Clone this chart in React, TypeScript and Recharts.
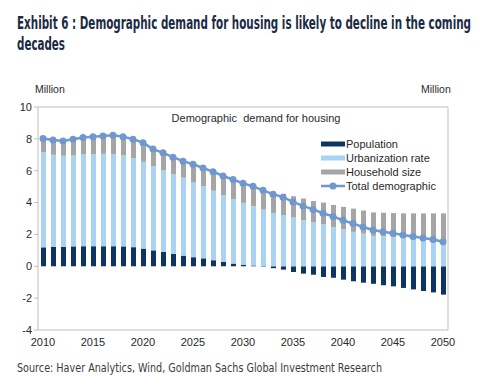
import React from 'react';
import { ComposedChart, Bar, Line, XAxis, YAxis, ReferenceLine } from 'recharts';

const years = [
  '2010', '2011', '2012', '2013', '2014', '2015', '2016', '2017', '2018', '2019',
  '2020', '2021', '2022', '2023', '2024', '2025', '2026', '2027', '2028', '2029',
  '2030', '2031', '2032', '2033', '2034', '2035', '2036', '2037', '2038', '2039',
  '2040', '2041', '2042', '2043', '2044', '2045', '2046', '2047', '2048', '2049', '2050',
];

const population = [
  1.19, 1.22, 1.22, 1.25, 1.26, 1.26, 1.26, 1.26, 1.25, 1.2,
  1.11, 1.0, 0.9, 0.78, 0.67, 0.57, 0.5, 0.38, 0.27, 0.17,
  0.1, 0.05, -0.03, -0.12, -0.21, -0.36, -0.46, -0.53, -0.67, -0.72,
  -0.84, -0.94, -1.03, -1.1, -1.19, -1.26, -1.36, -1.45, -1.55, -1.64, -1.78,
];

const urbanization = [
  5.96, 5.78, 5.72, 5.71, 5.76, 5.78, 5.8, 5.78, 5.71, 5.59,
  5.45, 5.29, 5.14, 4.99, 4.89, 4.69, 4.53, 4.36, 4.2, 4.04,
  3.88, 3.72, 3.56, 3.35, 3.22, 3.06, 2.89, 2.77, 2.64, 2.47,
  2.33, 2.16, 2.05, 1.91, 1.89, 1.84, 1.8, 1.74, 1.64, 1.53, 1.43,
];

const householdSize = [
  0.87, 0.93, 0.93, 1.02, 1.06, 1.09, 1.12, 1.18, 1.18, 1.19,
  1.2, 1.07, 1.08, 1.08, 1.04, 1.15, 1.14, 1.2, 1.2, 1.24,
  1.23, 1.25, 1.24, 1.3, 1.33, 1.34, 1.36, 1.33, 1.36, 1.38,
  1.4, 1.46, 1.45, 1.47, 1.47, 1.5, 1.52, 1.58, 1.68, 1.79, 1.89,
];

const totalDemographic = [
  8.02, 7.93, 7.87, 7.98, 8.08, 8.13, 8.18, 8.22, 8.14, 7.98,
  7.76, 7.36, 7.12, 6.85, 6.6, 6.41, 6.17, 5.94, 5.67, 5.45,
  5.21, 5.02, 4.77, 4.53, 4.34, 4.04, 3.79, 3.57, 3.33, 3.13,
  2.89, 2.68, 2.47, 2.28, 2.17, 2.08, 1.96, 1.87, 1.77, 1.68, 1.54,
];

const yTicks = [-4, -2, 0, 2, 4, 6, 8, 10];

const data = years.map((year, i) => ({
  year,
  population: population[i],
  urbanization: urbanization[i],
  household: householdSize[i],
  total: totalDemographic[i],
}));

const COLORS = {
  population: '#0c3561',
  urbanization: '#aad3f2',
  household: '#a5a5a5',
  total: '#7097cf',
  axis: '#bfbfbf',
  text: '#2a2a2a',
};

const chartFont = "'Liberation Sans', Arial, sans-serif";
const narrowFont = "'Liberation Sans Narrow', 'DejaVu Sans Condensed', sans-serif";

const legendItems = [
  { label: 'Population', color: COLORS.population, kind: 'bar' },
  { label: 'Urbanization rate', color: COLORS.urbanization, kind: 'bar' },
  { label: 'Household size', color: COLORS.household, kind: 'bar' },
  { label: 'Total demographic', color: COLORS.total, kind: 'line' },
];

// legend drawn in the overlay so it doesn't eat into the plot height
const ChartLegend = ({ x, y }: { x: number; y: number }) => (
  <g>
    {legendItems.map((item, i) => {
      const cy = y + i * 14;
      return (
        <g key={item.label}>
          {item.kind === 'bar' ? (
            <rect x={x} y={cy - 2.5} width={24} height={5} fill={item.color} />
          ) : (
            <g>
              <line x1={x} x2={x + 24} y1={cy} y2={cy} stroke={item.color} strokeWidth={2.5} />
              <circle cx={x + 12} cy={cy} r={3.5} fill={item.color} />
            </g>
          )}
          <text x={x + 25} y={cy + 4} fontSize={11} fontFamily={chartFont} fill={COLORS.text}>
            {item.label}
          </text>
        </g>
      );
    })}
  </g>
);

// condensed heading: squeeze horizontally so the box matches the drawn width
const Squeezed = ({ x, y, width, natural, size, children }: any) => (
  <g transform={`translate(${x},${y}) scale(${width / natural},1)`}>
    <text x={0} y={0} fontSize={size} fontWeight="bold" fontFamily={narrowFont} fill="#1b2b45"
      textLength={natural} lengthAdjust="spacingAndGlyphs">
      {children}
    </text>
  </g>
);

export default function App() {
  return (
    <div style={{ position: 'absolute', left: 0, top: 0, width: 479, height: 377, background: '#fff' }}>
      <ComposedChart
        width={479}
        height={377}
        data={data}
        stackOffset="sign"
        margin={{ top: 107, right: 0, left: 8, bottom: 27 }}
        barSize={5}
      >
        <XAxis
          dataKey="year"
          interval={4}
          tickLine={false}
          axisLine={{ stroke: COLORS.axis }}
          tick={{ fontSize: 11, fill: COLORS.text, fontFamily: chartFont }}
          height={20}
        />
        <YAxis
          yAxisId="left"
          domain={[-4, 10]}
          ticks={yTicks}
          width={30}
          tickSize={4}
          axisLine={{ stroke: COLORS.axis }}
          tickLine={{ stroke: COLORS.axis }}
          tick={{ fontSize: 11, fill: COLORS.text, fontFamily: chartFont }}
        />
        <YAxis
          yAxisId="right"
          orientation="right"
          domain={[-4, 10]}
          ticks={yTicks}
          width={31}
          tickSize={4}
          axisLine={{ stroke: COLORS.axis }}
          tickLine={{ stroke: COLORS.axis }}
          tick={{ fontSize: 11, fill: COLORS.text, fontFamily: chartFont }}
        />
        <ReferenceLine yAxisId="left" y={10} stroke={COLORS.axis} />
        <Bar yAxisId="left" dataKey="population" stackId="a" fill={COLORS.population} isAnimationActive={false} />
        <Bar yAxisId="left" dataKey="urbanization" stackId="a" fill={COLORS.urbanization} isAnimationActive={false} />
        <Bar yAxisId="left" dataKey="household" stackId="a" fill={COLORS.household} isAnimationActive={false} />
        <Line
          yAxisId="left"
          type="linear"
          dataKey="total"
          stroke={COLORS.total}
          strokeWidth={2.5}
          dot={{ r: 3.5, fill: COLORS.total, stroke: COLORS.total, strokeWidth: 0 }}
          isAnimationActive={false}
        />
      </ComposedChart>

      <svg
        width={479}
        height={377}
        style={{ position: 'absolute', left: 0, top: 0, pointerEvents: 'none' }}
      >
        <Squeezed x={17} y={29} width={454} natural={660} size={17}>
          Exhibit 6 : Demographic demand for housing is likely to decline in the coming
        </Squeezed>
        <Squeezed x={17} y={50} width={48} natural={70} size={17}>
          decades
        </Squeezed>
        <text x={35} y={93} fontSize={10.5} fontFamily={chartFont} fill={COLORS.text}>Million</text>
        <text x={421} y={93} fontSize={10.5} fontFamily={chartFont} fill={COLORS.text}>Million</text>
        <text x={256} y={122} fontSize={11} fontFamily={chartFont} fill={COLORS.text} textAnchor="middle"
          style={{ whiteSpace: 'pre' }}>
          Demographic  demand for housing
        </text>
        <ChartLegend x={321} y={144} />
        <text x={17} y={372} fontSize={12.5} fontFamily={narrowFont} fill="#3c3c3c"
          textLength={365} lengthAdjust="spacingAndGlyphs">
          Source: Haver Analytics, Wind, Goldman Sachs Global Investment Research
        </text>
      </svg>
    </div>
  );
}
